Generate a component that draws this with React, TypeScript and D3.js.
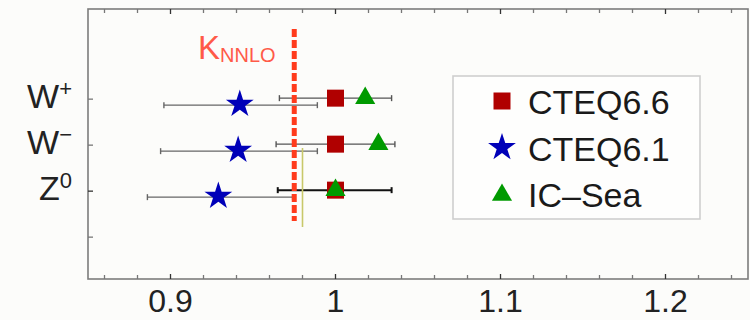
import React from 'react';
import * as d3 from 'd3';

// ratios per channel
const channels = ['W', 'W', 'Z'];
const channelSup = ['+', '−', '0'];
const channelPos = [1, 2, 3];
const emptyTick = 4;

const cteq66 = [1.0, 1.0, 1.0];
const cteq66Lo = [0.966, 0.964, 0.965];
const cteq66Hi = [1.034, 1.036, 1.034];

const cteq61 = [0.942, 0.941, 0.929];
const cteq61Lo = [0.896, 0.894, 0.886];
const cteq61Hi = [0.989, 0.989, 0.974];

const icSea = [1.018, 1.026, 1.0];

const kNNLO = 0.975;
const refLine = 0.98;

const majorTicks = [0.9, 1.0, 1.1, 1.2];
const tickLabels = ['0.9', '1', '1.1', '1.2'];

const legendNames = ['CTEQ6.6', 'CTEQ6.1', 'IC–Sea'];

const W = 750;
const H = 320;
const left = 88;
const right = 748;
const top = 9;
const bottom = 279;

const RED = '#b00000';
const BLUE = '#0000b8';
const GREEN = '#009a00';
const FONT = '"Liberation Sans", Arial, sans-serif';

const x = d3.scaleLinear().domain([0.85, 1.25]).range([left, right]);
const y = d3.scaleLinear().domain([-0.96, 4.91]).range([top, bottom]);

const square = d3.symbol(d3.symbolSquare, 289)();
const star = d3.symbol(d3.symbolStar, 240)();
const triangle = d3.symbol(d3.symbolTriangle, 175)();

const minorTicks = d3.range(0.86, 1.2401, 0.02);

const ErrorBar = ({ lo, hi, cy, color, width }) => (
  <g stroke={color} strokeWidth={width}>
    <line x1={x(lo)} x2={x(hi)} y1={cy} y2={cy} />
    <line x1={x(lo)} x2={x(lo)} y1={cy - 3} y2={cy + 3} />
    <line x1={x(hi)} x2={x(hi)} y1={cy - 3} y2={cy + 3} />
  </g>
);

export default function App() {
  return (
    <svg
      width={W}
      height={H}
      style={{ position: 'absolute', left: 0, top: 0, background: '#fcfcfa' }}
      fontFamily={FONT}
    >
      <rect x={0} y={0} width={W} height={H} fill="#fcfcfa" />

      {/* frame */}
      <rect
        x={left}
        y={top}
        width={right - left}
        height={bottom - top}
        fill="none"
        stroke="#7c7c7c"
        strokeWidth={1.6}
      />

      {/* x ticks, top and bottom, pointing inward */}
      {minorTicks.map((t, i) => {
        const major = majorTicks.some(m => Math.abs(m - t) < 1e-6);
        const len = major ? 5 : 4;
        const col = major ? '#333' : '#777';
        return (
          <g key={'t' + i} stroke={col} strokeWidth={1.3}>
            <line x1={x(t)} x2={x(t)} y1={bottom} y2={bottom - len} />
            <line x1={x(t)} x2={x(t)} y1={top} y2={top + len} />
          </g>
        );
      })}

      {/* y ticks */}
      {[...channelPos, emptyTick].map((p, i) => (
        <line
          key={'yt' + i}
          x1={left}
          x2={left + 5}
          y1={y(p)}
          y2={y(p)}
          stroke={i === 2 ? '#333' : '#777'}
          strokeWidth={1.3}
        />
      ))}

      {/* x tick labels */}
      {majorTicks.map((t, i) => (
        <text
          key={'xl' + i}
          x={x(t)}
          y={312}
          textAnchor="middle"
          fontSize={32}
          fill="#222"
        >
          {tickLabels[i]}
        </text>
      ))}

      {/* channel labels */}
      {channels.map((c, i) => (
        <text
          key={'yl' + i}
          x={72}
          y={y(channelPos[i]) + 9}
          textAnchor="end"
          fontSize={34}
          fill="#222"
        >
          {c}
          <tspan fontSize={22} dy={-12}>
            {channelSup[i]}
          </tspan>
        </text>
      ))}

      {/* error bars */}
      {channelPos.map((p, i) => (
        <g key={'eb' + i}>
          <ErrorBar
            lo={cteq61Lo[i]}
            hi={cteq61Hi[i]}
            cy={y(p) + 6}
            color="#666"
            width={1.4}
          />
          <ErrorBar
            lo={cteq66Lo[i]}
            hi={cteq66Hi[i]}
            cy={y(p) - 1}
            color={i === 2 ? '#111' : '#555'}
            width={i === 2 ? 2 : 1.4}
          />
        </g>
      ))}

      {/* reference line */}
      <line
        x1={x(refLine)}
        x2={x(refLine)}
        y1={148}
        y2={227}
        stroke="#c8c86a"
        strokeWidth={1.6}
      />

      {/* K_NNLO */}
      <line
        x1={x(kNNLO)}
        x2={x(kNNLO)}
        y1={29}
        y2={221}
        stroke="#ff3b1c"
        strokeWidth={5}
        strokeDasharray="8,3"
      />
      <text x={198} y={59} fill="#ff5a48" fontSize={33}>
        K
        <tspan fontSize={20} dy={3}>
          NNLO
        </tspan>
      </text>

      {/* markers */}
      {channelPos.map((p, i) => (
        <g key={'m' + i}>
          <path d={star} transform={`translate(${x(cteq61[i])},${y(p) + 5})`} fill={BLUE} />
          <path d={square} transform={`translate(${x(cteq66[i])},${y(p) - 1})`} fill={RED} />
          <path d={triangle} transform={`translate(${x(icSea[i])},${y(p) - 1})`} fill={GREEN} />
        </g>
      ))}

      {/* legend */}
      <rect x={453} y={76} width={247} height={143} fill="#fefefd" stroke="#cfcfcf" strokeWidth={1.6} />
      {legendNames.map((n, i) => {
        const cy = 101 + i * 46.5;
        const sym = i === 0 ? square : i === 1 ? star : triangle;
        const col = i === 0 ? RED : i === 1 ? BLUE : GREEN;
        return (
          <g key={'lg' + i}>
            <path d={sym} transform={`translate(502,${cy + (i === 2 ? 1 : 0)})`} fill={col} />
            <text x={528} y={cy + 13} fontSize={34} fill="#1a1a1a">
              {n}
            </text>
          </g>
        );
      })}
    </svg>
  );
}
